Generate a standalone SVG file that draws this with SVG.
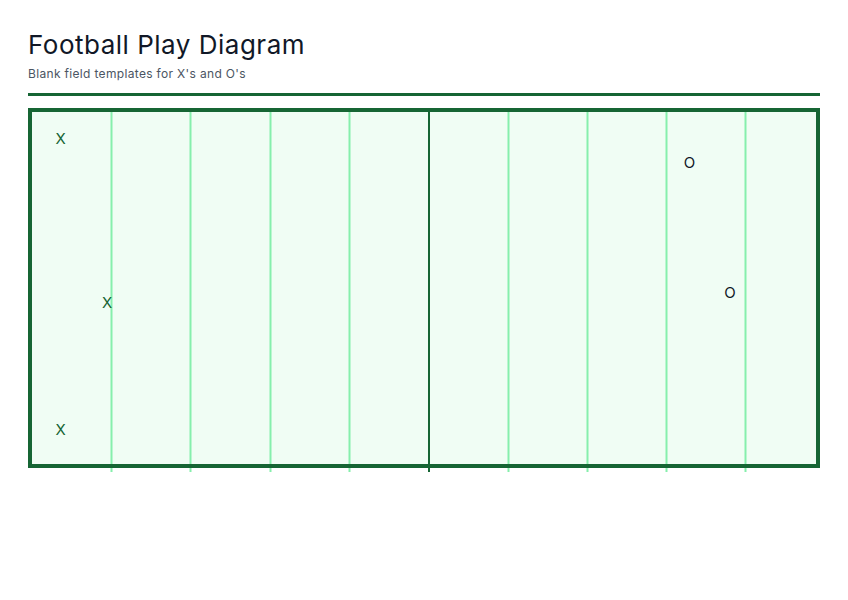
<svg xmlns="http://www.w3.org/2000/svg" width="848" height="600" viewBox="0 0 848 600">
<style>
.title{font-family:Inter,"Liberation Sans",sans-serif;font-size:26px;letter-spacing:0.5px;fill:#111827}
.sub{font-family:Inter,"Liberation Sans",sans-serif;font-size:12px;letter-spacing:0.33px;fill:#4b5563}
.yard{stroke:#86efac;stroke-width:2}
.mid{stroke:#166534;stroke-width:2}
.x{font-family:Inter,"Liberation Sans",sans-serif;font-size:15px;fill:#166534;text-anchor:middle}
.o{font-family:Inter,"Liberation Sans",sans-serif;font-size:15px;fill:#111827;text-anchor:middle}
</style>
<rect width="848" height="600" fill="#ffffff"/>
<g id="header">
<text class="title" x="28" y="54">Football Play Diagram</text>
<text class="sub" x="28" y="78">Blank field templates for X's and O's</text>
<line x1="28" y1="94.5" x2="820" y2="94.5" stroke="#166534" stroke-width="3"/>
</g>
<g id="field">
<rect x="30" y="110" width="788" height="356" fill="#f0fdf4" stroke="none"/>
<g id="yardlines">
<line class="yard" x1="111.5" y1="112" x2="111.5" y2="472"/>
<line class="yard" x1="190.5" y1="112" x2="190.5" y2="472"/>
<line class="yard" x1="270.5" y1="112" x2="270.5" y2="472"/>
<line class="yard" x1="349.5" y1="112" x2="349.5" y2="472"/>
<line class="mid" x1="429" y1="112" x2="429" y2="472"/>
<line class="yard" x1="508.5" y1="112" x2="508.5" y2="472"/>
<line class="yard" x1="587.5" y1="112" x2="587.5" y2="472"/>
<line class="yard" x1="666.5" y1="112" x2="666.5" y2="472"/>
<line class="yard" x1="745.5" y1="112" x2="745.5" y2="472"/>
</g>
<rect x="30" y="110" width="788" height="356" fill="none" stroke="#166534" stroke-width="4"/>
</g>
<g id="x1"><text class="x" x="60.5" y="144">X</text></g>
<g id="x2"><text class="x" x="107" y="308">X</text></g>
<g id="x3"><text class="x" x="60.5" y="435">X</text></g>
<g id="o1"><text class="o" x="689.5" y="168">O</text></g>
<g id="o2"><text class="o" x="730" y="298">O</text></g>
</svg>
